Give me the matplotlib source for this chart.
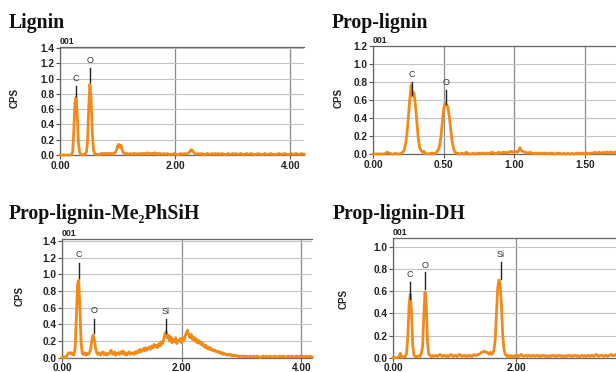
import matplotlib
matplotlib.use("Agg")
import matplotlib.pyplot as plt
import numpy as np

# ---- EDX spectra (CPS per energy channel) ----

# Lignin, channels every 0.02 keV from 0.00
lignin_step = 0.02
lignin_cps = [
    0.00, 0.00, 0.00, 0.00, 0.00, 0.00, 0.00, 0.00, 0.00, 0.00,
    0.00, 0.04, 0.32, 0.68, 0.76, 0.52, 0.16, 0.04, 0.01, 0.00,
    0.00, 0.01, 0.01, 0.04, 0.20, 0.64, 0.93, 0.74, 0.32, 0.08,
    0.02, 0.01, 0.01, 0.00, 0.01, 0.01, 0.02, 0.01, 0.02, 0.01,
    0.02, 0.01, 0.02, 0.02, 0.01, 0.02, 0.01, 0.02, 0.03, 0.06,
    0.12, 0.14, 0.10, 0.13, 0.07, 0.03, 0.02, 0.01, 0.02, 0.01,
    0.01, 0.02, 0.01, 0.01, 0.02, 0.01, 0.02, 0.01, 0.01, 0.02,
    0.01, 0.02, 0.01, 0.02, 0.01, 0.02, 0.03, 0.02, 0.01, 0.02,
    0.02, 0.01, 0.03, 0.02, 0.01, 0.02, 0.01, 0.02, 0.01, 0.01,
    0.02, 0.01, 0.01, 0.02, 0.01, 0.01, 0.00, 0.01, 0.01, 0.02,
    0.01, 0.01, 0.00, 0.01, 0.01, 0.02, 0.01, 0.01, 0.02, 0.01,
    0.01, 0.02, 0.03, 0.05, 0.07, 0.06, 0.04, 0.02, 0.01, 0.01,
    0.02, 0.01, 0.01, 0.02, 0.01, 0.01, 0.00, 0.01, 0.02, 0.01,
    0.01, 0.01, 0.02, 0.01, 0.01, 0.02, 0.01, 0.01, 0.02, 0.01,
    0.01, 0.02, 0.01, 0.01, 0.00, 0.01, 0.02, 0.01, 0.01, 0.01,
    0.02, 0.01, 0.01, 0.02, 0.01, 0.01, 0.01, 0.02, 0.01, 0.01,
    0.00, 0.01, 0.02, 0.01, 0.01, 0.01, 0.02, 0.01, 0.01, 0.00,
    0.01, 0.01, 0.02, 0.01, 0.01, 0.01, 0.00, 0.01, 0.02, 0.01,
    0.01, 0.01, 0.01, 0.02, 0.01, 0.01, 0.01, 0.00, 0.01, 0.01,
    0.02, 0.01, 0.01, 0.01, 0.01, 0.02, 0.01, 0.01, 0.00, 0.01,
    0.01, 0.02, 0.01, 0.01, 0.01, 0.02, 0.01, 0.01, 0.01, 0.01,
    0.02, 0.01, 0.01,
]

# Prop-lignin, channels every 0.01 keV from 0.00
prop_step = 0.01
prop_cps = [
    0.00, 0.00, 0.00, 0.00, 0.00, 0.00, 0.00, 0.00, 0.00, 0.01,
    0.02, 0.01, 0.01, 0.00, 0.00, 0.00, 0.01, 0.00, 0.00, 0.00,
    0.01, 0.02, 0.04, 0.10, 0.22, 0.40, 0.60, 0.77, 0.64, 0.68,
    0.55, 0.36, 0.18, 0.07, 0.04, 0.02, 0.03, 0.01, 0.00, 0.00,
    0.00, 0.01, 0.01, 0.00, 0.01, 0.02, 0.04, 0.08, 0.18, 0.34,
    0.50, 0.57, 0.55, 0.52, 0.42, 0.28, 0.14, 0.06, 0.02, 0.01,
    0.01, 0.00, 0.00, 0.01, 0.00, 0.00, 0.02, 0.01, 0.00, 0.00,
    0.00, 0.01, 0.00, 0.00, 0.01, 0.01, 0.00, 0.01, 0.01, 0.00,
    0.01, 0.01, 0.00, 0.01, 0.02, 0.01, 0.01, 0.00, 0.01, 0.02,
    0.01, 0.01, 0.02, 0.01, 0.02, 0.01, 0.02, 0.02, 0.03, 0.02,
    0.02, 0.03, 0.02, 0.03, 0.07, 0.04, 0.03, 0.02, 0.02, 0.01,
    0.01, 0.02, 0.01, 0.01, 0.00, 0.01, 0.01, 0.00, 0.01, 0.01,
    0.00, 0.01, 0.01, 0.00, 0.01, 0.00, 0.01, 0.01, 0.00, 0.00,
    0.01, 0.00, 0.01, 0.00, 0.00, 0.01, 0.00, 0.00, 0.01, 0.00,
    0.00, 0.01, 0.00, 0.00, 0.01, 0.00, 0.01, 0.00, 0.01, 0.01,
    0.00, 0.01, 0.01, 0.00, 0.01, 0.01, 0.01, 0.02, 0.01, 0.01,
    0.02, 0.01, 0.01, 0.02, 0.01, 0.02, 0.02, 0.01, 0.02, 0.02,
    0.01, 0.02, 0.02,
]

# Prop-lignin-Me2PhSiH, channels every 0.02 keV from 0.00
silane_step = 0.02
silane_cps = [
    0.00, 0.00, 0.01, 0.00, 0.02, 0.05, 0.06, 0.05, 0.06, 0.04,
    0.03, 0.12, 0.48, 0.88, 0.93, 0.58, 0.17, 0.05, 0.04, 0.06,
    0.03, 0.05, 0.04, 0.06, 0.11, 0.21, 0.27, 0.22, 0.12, 0.06,
    0.04, 0.06, 0.03, 0.05, 0.07, 0.04, 0.06, 0.03, 0.05, 0.04,
    0.06, 0.09, 0.05, 0.04, 0.07, 0.03, 0.05, 0.06, 0.04, 0.07,
    0.05, 0.08, 0.04, 0.06, 0.03, 0.05, 0.07, 0.04, 0.06, 0.05,
    0.04, 0.07, 0.05, 0.08, 0.06, 0.10, 0.07, 0.09, 0.11, 0.08,
    0.12, 0.09, 0.11, 0.13, 0.10, 0.14, 0.12, 0.16, 0.13, 0.15,
    0.12, 0.17, 0.14, 0.19, 0.17, 0.22, 0.28, 0.31, 0.24, 0.27,
    0.20, 0.25, 0.18, 0.22, 0.19, 0.24, 0.17, 0.21, 0.20, 0.23,
    0.18, 0.24, 0.21, 0.26, 0.30, 0.33, 0.27, 0.24, 0.28, 0.22,
    0.25, 0.20, 0.23, 0.18, 0.21, 0.17, 0.19, 0.15, 0.17, 0.13,
    0.15, 0.11, 0.13, 0.10, 0.12, 0.09, 0.10, 0.08, 0.09, 0.07,
    0.08, 0.06, 0.07, 0.05, 0.06, 0.04, 0.05, 0.04, 0.03, 0.04,
    0.03, 0.04, 0.02, 0.03, 0.02, 0.03, 0.02, 0.02, 0.01, 0.02,
    0.02, 0.01, 0.02, 0.01, 0.02, 0.01, 0.01, 0.02, 0.01, 0.01,
    0.02, 0.01, 0.01, 0.02, 0.01, 0.01, 0.00, 0.01, 0.02, 0.01,
    0.01, 0.02, 0.01, 0.01, 0.02, 0.01, 0.01, 0.01, 0.02, 0.01,
    0.01, 0.01, 0.02, 0.01, 0.01, 0.02, 0.01, 0.01, 0.01, 0.02,
    0.01, 0.01, 0.02, 0.01, 0.01, 0.01, 0.02, 0.01, 0.01, 0.02,
    0.01, 0.02, 0.01, 0.01, 0.02, 0.01, 0.01, 0.02, 0.01, 0.01,
]

# Prop-lignin-DH, channels every 0.02 keV from 0.00
dh_step = 0.02
dh_cps = [
    0.00, 0.00, 0.00, 0.00, 0.00, 0.01, 0.04, 0.01, 0.00, 0.01,
    0.01, 0.04, 0.18, 0.47, 0.57, 0.42, 0.12, 0.02, 0.01, 0.01,
    0.01, 0.02, 0.01, 0.04, 0.10, 0.38, 0.59, 0.47, 0.14, 0.03,
    0.02, 0.01, 0.02, 0.01, 0.02, 0.02, 0.01, 0.02, 0.03, 0.02,
    0.01, 0.02, 0.02, 0.01, 0.02, 0.01, 0.02, 0.03, 0.02, 0.01,
    0.02, 0.02, 0.01, 0.02, 0.03, 0.02, 0.01, 0.02, 0.02, 0.01,
    0.02, 0.01, 0.02, 0.02, 0.01, 0.02, 0.03, 0.02, 0.02, 0.03,
    0.03, 0.04, 0.05, 0.05, 0.06, 0.05, 0.05, 0.04, 0.03, 0.05,
    0.03, 0.04, 0.07, 0.17, 0.40, 0.63, 0.70, 0.66, 0.47, 0.22,
    0.08, 0.03, 0.02, 0.01, 0.02, 0.01, 0.02, 0.01, 0.01, 0.02,
    0.01, 0.02, 0.01, 0.02, 0.03, 0.02, 0.01, 0.02, 0.02, 0.01,
    0.02, 0.02, 0.01, 0.02, 0.02, 0.01, 0.02, 0.02, 0.01, 0.02,
    0.01, 0.02, 0.02, 0.01, 0.02, 0.01, 0.01, 0.02, 0.01, 0.02,
    0.02, 0.01, 0.02, 0.01, 0.02, 0.02, 0.01, 0.02, 0.01, 0.01,
    0.02, 0.01, 0.02, 0.02, 0.01, 0.02, 0.01, 0.02, 0.02, 0.01,
    0.02, 0.01, 0.01, 0.02, 0.02, 0.01, 0.02, 0.01, 0.02, 0.02,
    0.01, 0.02, 0.02, 0.01, 0.02, 0.03, 0.02, 0.01, 0.02, 0.02,
    0.02, 0.01, 0.02, 0.02, 0.01, 0.02, 0.02, 0.03, 0.02, 0.02,
    0.02, 0.03,
]

# peak markers: element, energy (keV), line bottom, line top, label height
lignin_peaks = [("C", 0.27, 0.78, 0.91, 1.00), ("O", 0.525, 0.96, 1.14, 1.24)]
prop_peaks = [("C", 0.275, 0.66, 0.80, 0.88), ("O", 0.52, 0.56, 0.71, 0.80)]
silane_peaks = [("C", 0.28, 0.96, 1.14, 1.24), ("O", 0.53, 0.30, 0.47, 0.57),
                ("Si", 1.74, 0.30, 0.46, 0.56)]
dh_peaks = [("C", 0.28, 0.53, 0.68, 0.75), ("O", 0.52, 0.62, 0.77, 0.83),
            ("Si", 1.75, 0.71, 0.86, 0.93)]

W, H = 616, 372
ORANGE = "#F28A1A"
SANS = "Liberation Sans"


def box(left, top, right, bottom):
    # pixel box -> figure fraction [l, b, w, h]
    return [left / W, 1 - bottom / H, (right - left) / W, (bottom - top) / H]


def spectrum(fig, rect, cps, step, xmax, ymax, xticks, yticks, peaks):
    ax = fig.add_axes(rect)
    kev = np.arange(len(cps)) * step
    ax.plot(kev, cps, color=ORANGE, lw=2.0, solid_joinstyle="round", zorder=3, clip_on=False)
    for name, e, y0, y1, ylab in peaks:
        ax.plot([e, e], [y0, y1], color="#222222", lw=1.0, zorder=4)
        ax.text(e, ylab, name, ha="center", va="center", fontsize=6.5,
                family=SANS, color="#333333", zorder=4)
    ax.set_xlim(0, xmax)
    ax.set_ylim(0, ymax)
    ax.set_xticks(xticks)
    ax.set_xticklabels(["%.2f" % t for t in xticks])
    ax.set_yticks(yticks)
    ax.set_yticklabels(["%.1f" % t for t in yticks])
    for lab in ax.get_xticklabels() + ax.get_yticklabels():
        lab.set_fontfamily(SANS)
        lab.set_fontweight("bold")
        lab.set_fontsize(7.3)
        lab.set_color("#222222")
    ax.tick_params(axis="both", direction="out", length=3, width=0.8, color="#555555", pad=1)
    ax.grid(axis="y", color="#c4c4c4", lw=0.8)
    ax.grid(axis="x", color="#8a8a8a", lw=0.9)
    ax.set_axisbelow(True)
    ax.spines["right"].set_visible(False)
    for s in ["left", "top", "bottom"]:
        ax.spines[s].set_color("#666666")
        ax.spines[s].set_linewidth(0.9)
    ax.text(0.0, 1.01, "001", transform=ax.transAxes, ha="left", va="bottom",
            fontsize=6.3, family=SANS, fontweight="bold", color="#222222")
    return ax


fig = plt.figure(figsize=(W / 100, H / 100), dpi=100)

spectrum(fig, box(60, 46.7, 304, 155), lignin_cps, lignin_step, 4.24, 1.42,
         [0, 2, 4], [0, 0.2, 0.4, 0.6, 0.8, 1.0, 1.2, 1.4], lignin_peaks)
spectrum(fig, box(373, 46, 616, 154), prop_cps, prop_step, 1.72, 1.2,
         [0, 0.5, 1.0, 1.5], [0, 0.2, 0.4, 0.6, 0.8, 1.0, 1.2], prop_peaks)
spectrum(fig, box(62, 238.7, 312, 357.7), silane_cps, silane_step, 4.18, 1.43,
         [0, 2, 4], [0, 0.2, 0.4, 0.6, 0.8, 1.0, 1.2, 1.4], silane_peaks)
spectrum(fig, box(393, 238.3, 616, 357.7), dh_cps, dh_step, 3.62, 1.076,
         [0, 2], [0, 0.2, 0.4, 0.6, 0.8, 1.0], dh_peaks)

# panel titles
serif = ["Liberation Serif", "DejaVu Serif"]
for x, y, t in [(9, 28, "Lignin"), (332, 28, "Prop-lignin"),
                (9, 219, "Prop-lignin-Me\u2082PhSiH"), (333, 219, "Prop-lignin-DH")]:
    fig.text(x / W, 1 - y / H, t, family=serif, fontweight="bold", fontsize=14.2,
             ha="left", va="baseline", color="#111111")

# CPS labels
for x, y in [(15, 98), (339, 98), (20, 296), (344, 299)]:
    fig.text(x / W, 1 - y / H, "CPS", family=SANS, fontweight="bold", fontsize=7,
             rotation=90, ha="center", va="center", color="#222222")

fig.savefig("out.png", dpi=100)
